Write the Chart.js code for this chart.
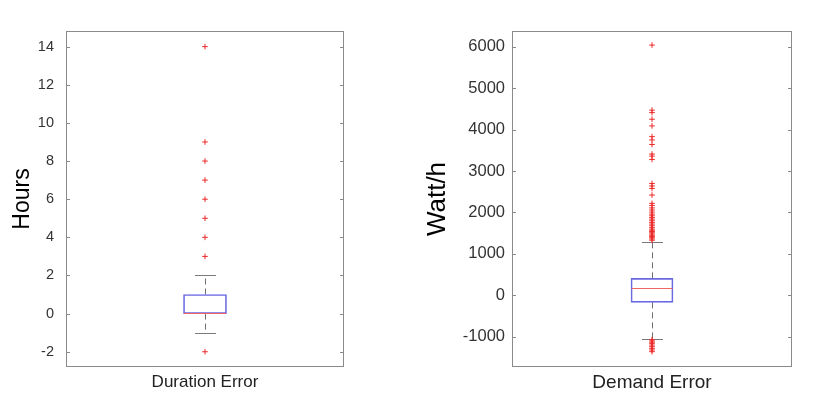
<!DOCTYPE html>
<html><head><meta charset="utf-8">
<script src="https://cdn.jsdelivr.net/npm/chart.js@4.4.1/dist/chart.umd.min.js"></script>
<style>
html,body{margin:0;padding:0;background:#fff;width:830px;height:410px;overflow:hidden}
.w{position:absolute;top:0;width:415px;height:410px}
</style></head><body>
<div class="w" style="left:0"><canvas id="c1" width="415" height="410"></canvas></div>
<div class="w" style="left:415px"><canvas id="c2" width="415" height="410"></canvas></div>
<script>
// ---- Duration Error ----
const durCategories = ['Duration Error'];
const durWhiskers = [-1, 2];          // lower, upper whisker
const durBox = [0, 1];                // Q1, Q3
const durMedian = [0];
const durOutliers = [14, 9, 8, 7, 6, 5, 4, 3, -2];
const durTicks = [-2, 0, 2, 4, 6, 8, 10, 12, 14];
const durRange = [-2.8, 14.82];
const durTitle = 'Hours';

// ---- Demand Error ----
const demCategories = ['Demand Error'];
const demWhiskers = [-1050, 1295];
const demBox = [-170, 410];
const demMedian = [150];
const demOutliers = [6040, 4470, 4410, 4250, 4090, 3830, 3750, 3640, 3410, 3360, 3280,
  2700, 2640, 2580, 2420, 2220, 2170, 2110, 2060, 2010, 1960, 1920, 1880, 1840, 1800,
  1760, 1720, 1680, 1640, 1600, 1570, 1540, 1510, 1480, 1450, 1420, 1390, 1360, 1330,
  -1070, -1100, -1130, -1160, -1200, -1240, -1280, -1320, -1360];
const demTicks = [-1000, 0, 1000, 2000, 3000, 4000, 5000, 6000];
const demRange = [-1730, 6380];
const demTitle = 'Watt/h';

const FONT = "'Liberation Sans', Arial, Helvetica, sans-serif";
const FRAME = '#8a8a8a';

const boxExtras = {
  id: 'boxExtras',
  beforeDatasetsDraw(chart, args, o) {
    const {ctx, scales: {x, y}} = chart;
    const cx = Math.round(x.getPixelForValue(0)) + 0.5;
    ctx.save();
    ctx.strokeStyle = '#6e6e6e';
    ctx.lineWidth = 1;
    ctx.setLineDash([6, 4]);
    ctx.beginPath();
    ctx.moveTo(cx, y.getPixelForValue(o.box[1]));
    ctx.lineTo(cx, y.getPixelForValue(o.whiskers[1]));
    ctx.moveTo(cx, y.getPixelForValue(o.box[0]));
    ctx.lineTo(cx, y.getPixelForValue(o.whiskers[0]));
    ctx.stroke();
    ctx.setLineDash([]);
    ctx.strokeStyle = '#7a7a7a';
    ctx.beginPath();
    o.whiskers.forEach(w => {
      const py = Math.round(y.getPixelForValue(w)) + 0.5;
      ctx.moveTo(cx - o.capHalf, py);
      ctx.lineTo(cx + o.capHalf, py);
    });
    ctx.stroke();
    ctx.restore();
  },
  afterDatasetsDraw(chart, args, o) {
    const {ctx, chartArea: a, scales: {x, y}} = chart;
    const cx = x.getPixelForValue(0);
    ctx.save();
    // median
    ctx.strokeStyle = 'rgb(240,100,100)';
    ctx.lineWidth = 1;
    ctx.beginPath();
    o.median.forEach(m => {
      const py = Math.round(y.getPixelForValue(m)) - 0.5;
      ctx.moveTo(cx - o.boxHalf, py);
      ctx.lineTo(cx + o.boxHalf, py);
    });
    ctx.stroke();
    // frame
    ctx.strokeStyle = FRAME;
    const L = Math.round(a.left) + 0.5, R = Math.round(a.right) - 0.5;
    const T = Math.round(a.top) + 0.5, B = Math.round(a.bottom) - 0.5;
    ctx.strokeRect(L, T, R - L, B - T);
    // inward ticks on both sides
    ctx.beginPath();
    y.ticks.forEach(t => {
      const py = Math.round(y.getPixelForValue(t.value)) + 0.5;
      ctx.moveTo(L, py); ctx.lineTo(L + 3.5, py);
      ctx.moveTo(R, py); ctx.lineTo(R - 3.5, py);
    });
    ctx.stroke();
    ctx.restore();
  }
};

function makeChart(id, cats, box, whiskers, median, outliers, ticks, range, title, opt) {
  return new Chart(document.getElementById(id), {
    type: 'bar',
    data: {
      labels: cats,
      datasets: [
        {
          type: 'line',
          data: outliers.map(v => ({x: cats[0], y: v})),
          showLine: false,
          pointStyle: 'cross',
          pointRadius: 2.8,
          pointBorderWidth: 1,
          pointBorderColor: 'rgb(235,40,40)',
          pointBackgroundColor: 'rgb(235,40,40)',
          order: 0
        },
        {
          data: [box],
          backgroundColor: 'rgba(0,0,0,0)',
          borderColor: 'rgb(105,105,228)',
          borderWidth: 1,
          borderSkipped: false,
          barThickness: opt.boxW,
          order: 1
        }
      ]
    },
    options: {
      responsive: false,
      animation: false,
      events: [],
      layout: {padding: {top: 31, right: opt.padR, bottom: 0, left: 0}},
      plugins: {
        legend: {display: false},
        tooltip: {enabled: false},
        boxExtras: {box, whiskers, median, capHalf: 10.5, boxHalf: opt.boxW / 2 - 0.5}
      },
      scales: {
        x: {
          grid: {display: false, drawTicks: false},
          border: {display: false},
          ticks: {font: {family: FONT, size: opt.xFont}, color: '#222', padding: opt.xPad},
          afterFit(s) { s.height = 43; }
        },
        y: {
          min: range[0],
          max: range[1],
          grid: {display: false, drawTicks: false},
          border: {display: false},
          afterBuildTicks(s) { s.ticks = ticks.map(v => ({value: v})); },
          ticks: {font: {family: FONT, size: opt.tickFont}, color: '#333', padding: opt.tickPad,
                  callback: v => String(v)},
          title: {display: true, text: title, color: '#000',
                  font: {family: FONT, size: opt.titleFont}, padding: {top: opt.titlePad, bottom: 0}},
          afterFit(s) { s.width = opt.yW; }
        }
      }
    },
    plugins: [boxExtras]
  });
}

makeChart('c1', durCategories, durBox, durWhiskers, durMedian, durOutliers, durTicks, durRange, durTitle,
  {boxW: 43, padR: 71, tickPad: 12, yW: 66, titlePad: 9, tickFont: 14.5, xFont: 17, xPad: 5, titleFont: 23});
makeChart('c2', demCategories, demBox, demWhiskers, demMedian, demOutliers, demTicks, demRange, demTitle,
  {boxW: 42, padR: 38, tickPad: 7, yW: 97, titlePad: 7, tickFont: 16.5, xFont: 19, xPad: 4, titleFont: 26});
</script>
</body></html>
